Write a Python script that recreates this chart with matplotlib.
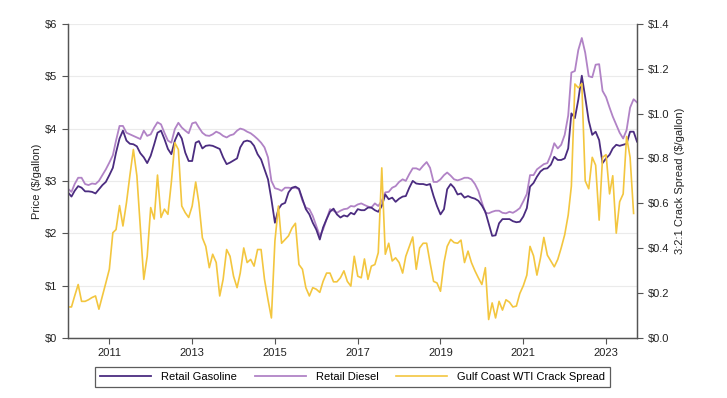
import numpy as np
import pandas as pd
import matplotlib
matplotlib.use('Agg')
import matplotlib.pyplot as plt
import matplotlib.dates as mdates
from matplotlib.ticker import FuncFormatter, MultipleLocator

plt.rcParams['font.family'] = ['Liberation Sans', 'DejaVu Sans']

# monthly, Jan 2010 onwards ($/gallon)
gasoline = [
    2.78, 2.70, 2.81, 2.90, 2.87, 2.80, 2.80, 2.79, 2.76, 2.84, 2.92, 2.98,
    3.11, 3.25, 3.54, 3.81, 3.96, 3.77, 3.71, 3.70, 3.66, 3.53, 3.45, 3.34,
    3.48, 3.70, 3.92, 3.96, 3.80, 3.61, 3.51, 3.77, 3.92, 3.81, 3.54, 3.38,
    3.38, 3.73, 3.76, 3.62, 3.67, 3.68, 3.67, 3.64, 3.61, 3.45, 3.32, 3.35,
    3.39, 3.43, 3.64, 3.75, 3.77, 3.75, 3.67, 3.51, 3.41, 3.22, 3.03, 2.65,
    2.20, 2.46, 2.55, 2.58, 2.78, 2.87, 2.89, 2.85, 2.65, 2.46, 2.36, 2.20,
    2.07, 1.88, 2.11, 2.27, 2.41, 2.47, 2.36, 2.30, 2.34, 2.32, 2.39, 2.36,
    2.46, 2.44, 2.44, 2.49, 2.49, 2.44, 2.41, 2.52, 2.74, 2.65, 2.68, 2.60,
    2.66, 2.70, 2.71, 2.87, 3.00, 2.95, 2.94, 2.94, 2.92, 2.94, 2.71, 2.52,
    2.36, 2.46, 2.84, 2.94, 2.87, 2.74, 2.76, 2.68, 2.71, 2.68, 2.66, 2.62,
    2.53, 2.41, 2.19, 1.95, 1.96, 2.19, 2.27, 2.27, 2.27, 2.23, 2.21, 2.22,
    2.32, 2.48, 2.89, 2.96, 3.08, 3.18, 3.23, 3.24, 3.31, 3.46, 3.40, 3.40,
    3.43, 3.62, 4.29, 4.20, 4.55, 5.01, 4.60, 4.15, 3.88, 3.94, 3.78, 3.34,
    3.43, 3.50, 3.62, 3.69, 3.67, 3.69, 3.71, 3.94, 3.94, 3.75,
]

diesel = [
    2.85, 2.79, 2.94, 3.06, 3.06, 2.94, 2.92, 2.95, 2.94, 3.00, 3.11, 3.22,
    3.35, 3.49, 3.77, 4.05, 4.05, 3.92, 3.89, 3.86, 3.83, 3.80, 3.96, 3.86,
    3.89, 4.02, 4.12, 4.08, 3.92, 3.77, 3.73, 3.99, 4.11, 4.02, 3.96, 3.91,
    4.10, 4.12, 4.02, 3.92, 3.87, 3.86, 3.89, 3.94, 3.91, 3.86, 3.83, 3.87,
    3.89, 3.96, 4.00, 3.98, 3.94, 3.91, 3.86, 3.80, 3.73, 3.64, 3.45, 3.00,
    2.86, 2.84, 2.81, 2.87, 2.87, 2.86, 2.87, 2.84, 2.62, 2.49, 2.46, 2.33,
    2.14, 1.95, 2.07, 2.27, 2.46, 2.43, 2.39, 2.43, 2.46, 2.47, 2.52, 2.51,
    2.55, 2.57, 2.54, 2.51, 2.49, 2.57, 2.52, 2.62, 2.78, 2.79, 2.87, 2.90,
    2.98, 3.03, 3.00, 3.13, 3.24, 3.24, 3.21, 3.29, 3.36, 3.25, 2.98, 2.98,
    3.03, 3.11, 3.16, 3.10, 3.03, 3.01, 3.03, 3.06, 3.06, 3.03, 2.94, 2.81,
    2.59, 2.39, 2.38, 2.41, 2.43, 2.43, 2.39, 2.38, 2.41, 2.39, 2.43, 2.48,
    2.61, 2.75, 3.11, 3.11, 3.22, 3.27, 3.32, 3.34, 3.50, 3.72, 3.62, 3.69,
    3.88, 4.25, 5.07, 5.10, 5.50, 5.73, 5.45, 5.00, 4.98, 5.22, 5.23, 4.72,
    4.60, 4.40, 4.23, 4.07, 3.92, 3.81, 3.97, 4.40, 4.56, 4.50,
]

crack = [
    0.138, 0.138, 0.187, 0.238, 0.163, 0.163, 0.170, 0.180, 0.187, 0.128, 0.187, 0.245,
    0.306, 0.469, 0.483, 0.590, 0.499, 0.602, 0.723, 0.840, 0.723, 0.499, 0.261, 0.364,
    0.581, 0.530, 0.726, 0.537, 0.574, 0.551, 0.693, 0.870, 0.840, 0.588, 0.558, 0.537,
    0.588, 0.695, 0.602, 0.446, 0.408, 0.313, 0.373, 0.336, 0.187, 0.261, 0.394, 0.364,
    0.275, 0.224, 0.289, 0.401, 0.336, 0.350, 0.320, 0.394, 0.394, 0.261, 0.170, 0.089,
    0.432, 0.588, 0.422, 0.439, 0.455, 0.490, 0.511, 0.327, 0.306, 0.224, 0.187, 0.224,
    0.217, 0.203, 0.252, 0.289, 0.289, 0.250, 0.250, 0.268, 0.299, 0.252, 0.231, 0.364,
    0.275, 0.268, 0.352, 0.261, 0.320, 0.327, 0.380, 0.758, 0.373, 0.422, 0.343, 0.357,
    0.336, 0.289, 0.364, 0.408, 0.450, 0.306, 0.401, 0.422, 0.422, 0.336, 0.252, 0.245,
    0.208, 0.336, 0.408, 0.439, 0.425, 0.422, 0.436, 0.336, 0.387, 0.336, 0.299, 0.268,
    0.238, 0.313, 0.082, 0.156, 0.089, 0.163, 0.124, 0.170, 0.159, 0.138, 0.142, 0.198,
    0.233, 0.280, 0.408, 0.366, 0.280, 0.355, 0.448, 0.369, 0.343, 0.317, 0.350, 0.401,
    0.460, 0.548, 0.677, 1.132, 1.115, 1.134, 0.700, 0.665, 0.805, 0.770, 0.525, 0.805,
    0.817, 0.642, 0.723, 0.467, 0.607, 0.642, 0.898, 0.805, 0.555,
]

tick_years = [2011, 2013, 2015, 2017, 2019, 2021, 2023]

dates = pd.date_range('2010-01-01', periods=len(gasoline), freq='MS')
crack_dates = dates[:len(crack)]

C_GAS = '#4b2c80'
C_DSL = '#b183c6'
C_CRK = '#f3c63f'
AX_C = '#555555'

fig = plt.figure(figsize=(7.27, 3.98), dpi=100)
ax = fig.add_axes([0.0935, 0.151, 0.7827, 0.789])
ax2 = ax.twinx()

ax.plot(dates, diesel, color=C_DSL, lw=1.3, label='Retail Diesel')
ax.plot(dates, gasoline, color=C_GAS, lw=1.3, label='Retail Gasoline')
ax2.plot(crack_dates, crack, color=C_CRK, lw=1.2,
         label='Gulf Coast WTI Crack Spread')

ax.set_ylim(0, 6)
ax2.set_ylim(0, 1.4)
ax.set_xlim(dates[0], dates[-1])
ax.yaxis.set_major_locator(MultipleLocator(1))
ax2.yaxis.set_major_locator(MultipleLocator(0.2))
ax.yaxis.set_major_formatter(FuncFormatter(lambda v, p: f'${v:.0f}'))
ax2.yaxis.set_major_formatter(FuncFormatter(lambda v, p: f'${v:.1f}'))
ax.set_xticks([pd.Timestamp(f'{y}-01-01') for y in tick_years])
ax.xaxis.set_major_formatter(mdates.DateFormatter('%Y'))

ax.grid(axis='y', color='#ebebeb', lw=0.8)
ax.set_axisbelow(True)

for a in (ax, ax2):
    a.spines['top'].set_visible(False)
    for s in ('left', 'right', 'bottom'):
        a.spines[s].set_color(AX_C)
        a.spines[s].set_linewidth(0.9)
    a.tick_params(colors=AX_C, labelcolor='#222222', labelsize=8,
                  length=4, width=0.8)

ax.set_ylabel('Price ($/gallon)', fontsize=8, color='#222222', labelpad=2)
ax2.set_ylabel('3:2:1 Crack Spread ($/gallon)', fontsize=8,
               color='#222222', labelpad=4, rotation=90)

h1, l1 = ax.get_legend_handles_labels()
h2, l2 = ax2.get_legend_handles_labels()
handles = [h1[1], h1[0], h2[0]]
labels = [l1[1], l1[0], l2[0]]
leg = fig.legend(handles, labels, loc='center', ncol=3,
                 bbox_to_anchor=(0.485, 0.054), fontsize=8,
                 frameon=True, fancybox=False, edgecolor='#333333',
                 handlelength=4.6, handletextpad=0.9, columnspacing=1.6,
                 borderpad=0.45)
leg.get_frame().set_linewidth(0.9)

fig.savefig('out.png', dpi=100)
